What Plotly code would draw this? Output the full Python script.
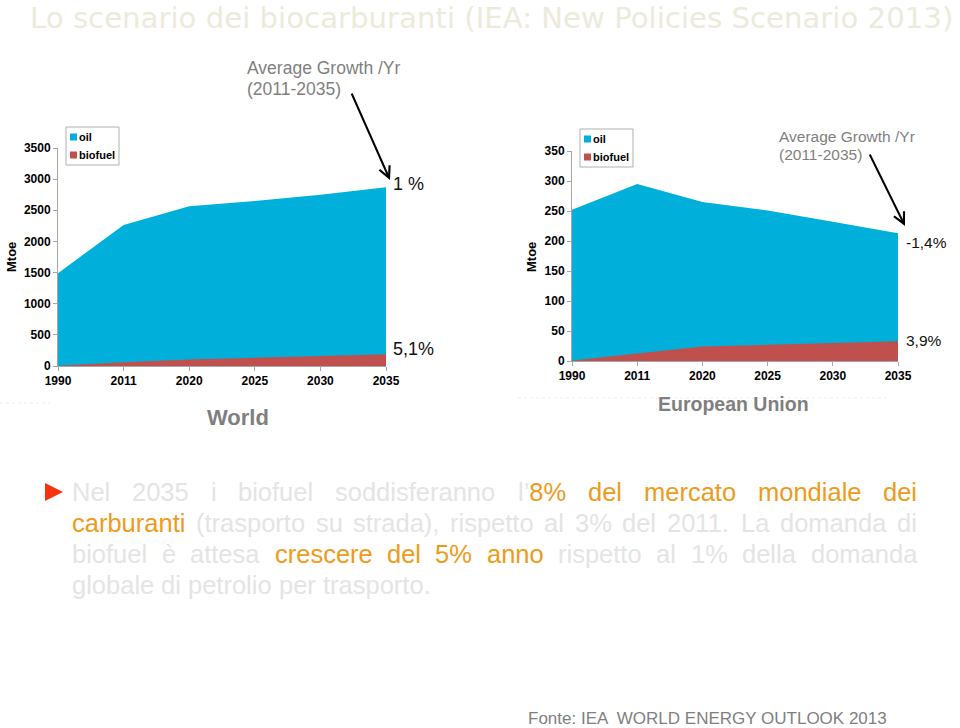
import plotly.graph_objects as go

# ---------------- data ----------------
years = ["1990", "2011", "2020", "2025", "2030", "2035"]
world_oil = [1490, 2265, 2565, 2650, 2750, 2870]
world_biofuel = [5, 62, 105, 135, 160, 190]
eu_oil = [252, 295, 265, 251, 232, 213]
eu_biofuel = [1, 13, 24, 27, 30, 33]
series_names = ["oil", "biofuel"]
world_growth = ["1 %", "5,1%"]
eu_growth = ["-1,4%", "3,9%"]

OIL = "#00B0DA"
BIO = "#C0504D"
GRAY = "#7F7F7F"
AXIS = "#A6A6A6"
PALE = "#E4E4E4"
ORANGE = "#EF9A1A"
FONT = "Liberation Sans, Arial, sans-serif"

W, H = 960, 728
OFF = 0  # body margin removed by post_script below


def px(x):
    return (x - OFF) / W


def py(y):
    return 1 - (y - OFF) / H


idx = list(range(len(years)))

fig = go.Figure()
fig.add_trace(go.Scatter(x=idx, y=world_oil, name=series_names[0], mode="lines",
                         line=dict(width=0, color=OIL), fill="tozeroy", fillcolor=OIL,
                         xaxis="x", yaxis="y", showlegend=False))
fig.add_trace(go.Scatter(x=idx, y=world_biofuel, name=series_names[1], mode="lines",
                         line=dict(width=0, color=BIO), fill="tozeroy", fillcolor=BIO,
                         xaxis="x", yaxis="y", showlegend=False))
fig.add_trace(go.Scatter(x=idx, y=eu_oil, name=series_names[0], mode="lines",
                         line=dict(width=0, color=OIL), fill="tozeroy", fillcolor=OIL,
                         xaxis="x2", yaxis="y2", showlegend=False))
fig.add_trace(go.Scatter(x=idx, y=eu_biofuel, name=series_names[1], mode="lines",
                         line=dict(width=0, color=BIO), fill="tozeroy", fillcolor=BIO,
                         xaxis="x2", yaxis="y2", showlegend=False))

tickfont = dict(family=FONT, size=12, color="black", weight="bold")
xcommon = dict(range=[0, 5], tickmode="array", tickvals=idx, ticktext=years,
               showline=True, linecolor=AXIS, linewidth=1, ticks="outside",
               ticklen=4, tickcolor=AXIS, showgrid=False, zeroline=False,
               tickfont=tickfont, fixedrange=True, automargin=False)
ycommon = dict(showline=True, linecolor=AXIS, linewidth=1, ticks="outside",
               ticklen=4, tickcolor=AXIS, showgrid=False, zeroline=False,
               tickfont=tickfont, fixedrange=True, automargin=False)

fig.update_layout(
    width=W, height=H, margin=dict(l=0, r=0, t=0, b=0, pad=0, autoexpand=False),
    paper_bgcolor="white", plot_bgcolor="white",
    xaxis=dict(domain=[px(58), px(386)], anchor="y", **xcommon),
    yaxis=dict(domain=[py(366), py(148)], anchor="x", range=[0, 3500], dtick=500, **ycommon),
    xaxis2=dict(domain=[px(572), px(898)], anchor="y2", **xcommon),
    yaxis2=dict(domain=[py(361), py(151)], anchor="x2", range=[0, 350], dtick=50, **ycommon),
    font=dict(family=FONT),
    showlegend=False,
)

ann = []
shapes = []


def text(x, y, t, size, color="black", anchor="left", weight="normal", angle=0, yanchor="middle",
         family=FONT):
    ann.append(dict(x=px(x), y=py(y), xref="paper", yref="paper", text=t, showarrow=False,
                    xanchor=anchor, yanchor=yanchor, textangle=angle,
                    borderpad=0, borderwidth=0,
                    font=dict(family=family, size=size, color=color, weight=weight)))


def arrow(tail, tip):
    ann.append(dict(x=px(tip[0]), y=py(tip[1]), xref="paper", yref="paper",
                    ax=tail[0] - tip[0], ay=tail[1] - tip[1], axref="pixel", ayref="pixel",
                    text="", showarrow=True, arrowhead=5, arrowsize=1.1, arrowwidth=2,
                    arrowcolor="black"))


# title
text(30, 17.5, "Lo scenario dei biocarburanti (IEA: New Policies Scenario 2013)", 29.2, "#ECEADB",
     family="DejaVu Sans, sans-serif")

# legends (manual, small boxes like the original)
for (lx, ly) in [(66, 127), (580, 129)]:
    shapes.append(dict(type="rect", xref="paper", yref="paper", x0=px(lx), x1=px(lx + 53),
                       y0=py(ly), y1=py(ly + 38), line=dict(color="#B0B0B0", width=1),
                       fillcolor="white"))
    for k, (nm, col) in enumerate(zip(series_names, [OIL, BIO])):
        cy = ly + 10 + k * 18
        shapes.append(dict(type="rect", xref="paper", yref="paper", x0=px(lx + 4), x1=px(lx + 11),
                           y0=py(cy - 3.5), y1=py(cy + 3.5), line=dict(width=0), fillcolor=col))
        text(lx + 13, cy, nm, 11, "black", weight="bold")

# axis titles
text(11, 257, "Mtoe", 13, "black", anchor="center", weight="bold", angle=-90)
text(531, 257, "Mtoe", 13, "black", anchor="center", weight="bold", angle=-90)

# growth annotations - world
text(247, 68, "Average Growth /Yr", 17.5, GRAY)
text(247, 89, "(2011-2035)", 17.5, GRAY)
arrow((351, 92), (390, 180))
text(393, 184, world_growth[0], 18, "#111111")
text(393, 349, world_growth[1], 18, "#111111")

# growth annotations - EU
text(779, 136, "Average Growth /Yr", 15.5, GRAY)
text(779, 154, "(2011-2035)", 15.5, GRAY)
arrow((869, 153), (905, 226))
text(906, 243, eu_growth[0], 15.5, "#111111")
text(906, 340, eu_growth[1], 15.5, "#111111")

# chart captions
text(238, 418, "World", 22, GRAY, anchor="center", weight="bold")
text(733, 404, "European Union", 19.5, GRAY, anchor="center", weight="bold")

# faint frame lines
shapes.append(dict(type="line", xref="paper", yref="paper", x0=px(518), x1=px(890),
                   y0=py(398), y1=py(398), line=dict(color="#EDEDED", width=1, dash="dot")))
shapes.append(dict(type="line", xref="paper", yref="paper", x0=px(0), x1=px(50),
                   y0=py(403), y1=py(403), line=dict(color="#EDEDED", width=1, dash="dot")))

# bullet paragraph (justified by hand)
CW = {" ": 278, "%": 889, "'": 191, "\u2019": 222, "(": 333, ")": 333, ",": 278, "-": 333,
      ".": 278, "/": 278, ":": 278, "è": 556,
      "A": 667, "B": 667, "C": 722, "D": 722, "E": 667, "F": 611, "G": 778, "H": 722, "I": 278,
      "L": 556, "N": 722, "O": 778, "P": 667, "R": 722, "S": 667, "T": 611, "U": 722, "W": 944,
      "Y": 667,
      "a": 556, "b": 556, "c": 500, "d": 556, "e": 556, "f": 278, "g": 556, "h": 556, "i": 222,
      "j": 222, "k": 500, "l": 222, "m": 833, "n": 556, "o": 556, "p": 556, "q": 556, "r": 333,
      "s": 500, "t": 278, "u": 556, "v": 500, "w": 722, "x": 500, "y": 500, "z": 500}


def tw(s, fs):
    return sum(CW.get(ch, 556) for ch in s) * fs / 1000.0


para = [
    [("Nel 2035 i biofuel soddisferanno l\u2019", PALE), ("8% del mercato mondiale dei", ORANGE)],
    [("carburanti", ORANGE), (" (trasporto su strada), rispetto al 3% del 2011. La domanda di", PALE)],
    [("biofuel è attesa ", PALE), ("crescere del 5% anno", ORANGE), (" rispetto al 1%  della domanda", PALE)],
    [("globale di petrolio per trasporto.", PALE)],
]
PFS = 25.5
X0, X1 = 72, 917
line_y = [492, 523, 554, 585]
for li, segs in enumerate(para):
    words = [[]]
    for t, c in segs:
        parts = t.split(" ")
        for j, p in enumerate(parts):
            if j > 0:
                words.append([])
            if p:
                words[-1].append((p, c))
    words = [w for w in words if w]
    widths = [sum(tw(p, PFS) for p, _ in w) for w in words]
    justify = li < len(para) - 1
    gap = (X1 - X0 - sum(widths)) / (len(words) - 1) if justify else tw(" ", PFS)
    x = X0
    for w, wd in zip(words, widths):
        html = "".join(f"<span style='color:{c}'>{p}</span>" for p, c in w)
        text(x, line_y[li], html, PFS, PALE)
        x += wd + gap

# bullet triangle
shapes.append(dict(type="path", xref="paper", yref="paper",
                   path=f"M{px(45)},{py(483)} L{px(63)},{py(492)} L{px(45)},{py(501)} Z",
                   fillcolor="#F5330F", line=dict(width=0)))

# footer
text(528, 718, "Fonte: IEA  WORLD ENERGY OUTLOOK 2013", 17, GRAY)

fig.update_layout(annotations=ann, shapes=shapes)
fig.write_html("out.html", config={"displayModeBar": False},
               post_script="document.body.style.margin='0px';document.body.style.overflow='hidden';")
